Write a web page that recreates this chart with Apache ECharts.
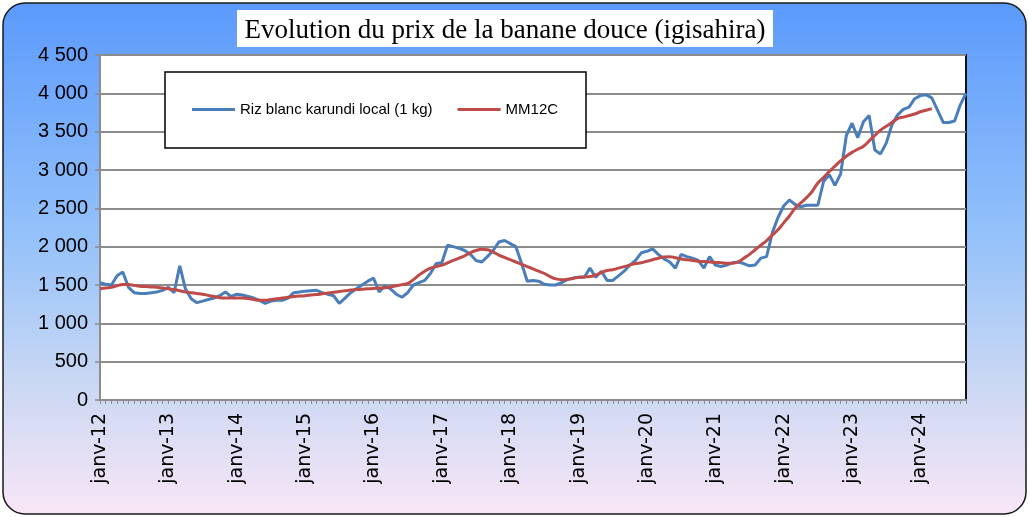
<!DOCTYPE html>
<html>
<head>
<meta charset="utf-8">
<script src="https://cdn.jsdelivr.net/npm/echarts@6/dist/echarts.min.js"></script>
<style>
  html, body { margin: 0; padding: 0; background: #ffffff; }
  #chart { width: 1029px; height: 517px; }
</style>
</head>
<body>
<div id="chart"></div>
<script>
// Month names and years used to build the monthly category axis (janv-12 ... sept-24)
const monthNames = ['janv', 'févr', 'mars', 'avr', 'mai', 'juin', 'juil', 'août', 'sept', 'oct', 'nov', 'déc'];
const years = ['12', '13', '14', '15', '16', '17', '18', '19', '20', '21', '22', '23', '24'];
const lastMonthIndex2024 = 8; // series ends in September 2024

// Monthly price (FBu)
const priceSeries = [
  1530, 1510, 1500, 1620, 1670, 1470, 1400, 1390, 1390, 1400, 1410, 1430, // 2012
  1470, 1400, 1750, 1450, 1320, 1270, 1290, 1310, 1330, 1360, 1410, 1350, // 2013
  1380, 1370, 1350, 1330, 1300, 1260, 1290, 1300, 1300, 1330, 1400, 1410, // 2014
  1420, 1425, 1430, 1400, 1380, 1360, 1260, 1330, 1400, 1450, 1500, 1550, // 2015
  1590, 1410, 1490, 1450, 1380, 1340, 1400, 1500, 1530, 1560, 1650, 1780, // 2016
  1790, 2020, 2000, 1980, 1950, 1900, 1820, 1800, 1870, 1950, 2060, 2080, // 2017
  2040, 2000, 1780, 1550, 1560, 1550, 1510, 1500, 1500, 1530, 1570, 1590, // 2018
  1600, 1600, 1720, 1600, 1680, 1560, 1560, 1620, 1680, 1760, 1820, 1920, // 2019
  1940, 1970, 1900, 1840, 1800, 1720, 1900, 1870, 1850, 1820, 1720, 1870, // 2020
  1760, 1740, 1760, 1790, 1800, 1780, 1750, 1760, 1850, 1870, 2180, 2380, // 2021
  2530, 2610, 2550, 2520, 2540, 2540, 2540, 2850, 2940, 2800, 2950, 3450, // 2022
  3610, 3420, 3630, 3710, 3260, 3210, 3350, 3590, 3720, 3790, 3820, 3930, // 2023
  3970, 3980, 3940, 3780, 3620, 3620, 3640, 3850, 4000                    // 2024
];

// Centred 12-month moving average (no value for the last months)
const movingAverage = [
  1450, 1460, 1470, 1490, 1505, 1505, 1495, 1485, 1480, 1475, 1470, 1460, // 2012
  1450, 1440, 1425, 1410, 1400, 1390, 1380, 1365, 1350, 1335, 1330, 1330, // 2013
  1330, 1330, 1325, 1310, 1300, 1300, 1310, 1320, 1330, 1340, 1350, 1355, // 2014
  1360, 1370, 1375, 1385, 1395, 1405, 1415, 1425, 1435, 1440, 1445, 1450, // 2015
  1455, 1460, 1465, 1475, 1490, 1505, 1520, 1570, 1630, 1680, 1720, 1740, // 2016
  1760, 1790, 1820, 1850, 1880, 1920, 1950, 1965, 1960, 1930, 1890, 1860, // 2017
  1830, 1800, 1770, 1740, 1710, 1680, 1650, 1610, 1580, 1570, 1575, 1585, // 2018
  1600, 1605, 1610, 1630, 1660, 1690, 1700, 1720, 1740, 1760, 1780, 1790, // 2019
  1810, 1830, 1850, 1865, 1870, 1855, 1840, 1830, 1820, 1810, 1805, 1800, // 2020
  1795, 1790, 1785, 1785, 1800, 1850, 1900, 1960, 2020, 2080, 2150, 2220, // 2021
  2310, 2400, 2500, 2570, 2640, 2720, 2830, 2900, 2980, 3050, 3120, 3180, // 2022
  3230, 3270, 3310, 3380, 3450, 3520, 3570, 3620, 3670, 3690, 3710, 3730, // 2023
  3760, 3780, 3800, null, null, null, null, null, null                    // 2024
];

const seriesNames = ['Riz blanc karundi local (1 kg)', 'MM12C'];
const titleText = 'Evolution du prix de la banane douce (igisahira)';

// Build "janv-12", "févr-12", ... labels
const categories = [];
years.forEach((yy, yi) => {
  const lastMonth = yi === years.length - 1 ? lastMonthIndex2024 : 11;
  for (let m = 0; m <= lastMonth; m++) categories.push(monthNames[m] + '-' + yy);
});

const formatThousands = v => String(v).replace(/\B(?=(\d{3})+(?!\d))/g, ' ');

const chart = echarts.init(document.getElementById('chart'), null, { renderer: 'canvas' });

const option = {
  backgroundColor: '#ffffff',
  animation: false,
  title: {
    text: titleText,
    left: 505,
    top: 17,
    textAlign: 'center',
    padding: 0,
    textStyle: {
      fontFamily: 'Liberation Serif',
      fontSize: 27,
      fontWeight: 'normal',
      color: '#000000'
    },
    z: 10
  },
  legend: {
    left: 192,
    top: 102,
    icon: 'rect',
    itemWidth: 43,
    itemHeight: 3,
    itemGap: 25,
    padding: 0,
    textStyle: {
      fontFamily: 'Liberation Sans',
      fontSize: 15,
      color: '#000000',
      padding: [0, 0, 0, 0]
    },
    data: seriesNames,
    z: 10
  },
  graphic: [
    {
      // rounded panel with blue-to-lavender gradient
      type: 'rect',
      z: -10,
      silent: true,
      shape: { x: 3, y: 3, width: 1023, height: 511, r: 22 },
      style: {
        fill: new echarts.graphic.LinearGradient(0, 0, 0, 1, [
          { offset: 0, color: '#5b9afc' },
          { offset: 0.45, color: '#93c1fa' },
          { offset: 0.75, color: '#cbd8f3' },
          { offset: 1, color: '#f9e6f6' }
        ]),
        stroke: '#1a1a1a',
        lineWidth: 1.5
      }
    },
    {
      // title box
      type: 'rect',
      z: 5,
      silent: true,
      shape: { x: 237, y: 10, width: 536, height: 37 },
      style: { fill: '#ffffff' }
    },
    {
      // legend box
      type: 'rect',
      z: 5,
      silent: true,
      shape: { x: 165, y: 72, width: 421, height: 76 },
      style: { fill: '#ffffff', stroke: '#000000', lineWidth: 1.5 }
    }
  ],
  grid: {
    left: 100,
    right: 63,
    top: 55,
    bottom: 117,
    show: true,
    backgroundColor: '#ffffff',
    borderColor: '#111111',
    borderWidth: 2,
    containLabel: false
  },
  xAxis: {
    type: 'category',
    data: categories,
    boundaryGap: false,
    axisLine: { lineStyle: { color: '#8c8c8c', width: 2 } },
    axisTick: { show: true, interval: 0, length: 4, lineStyle: { color: '#8c8c8c', width: 1 } },
    axisLabel: {
      interval: 11,
      rotate: 90,
      margin: 13,
      padding: [7, 0, 0, 0],
      fontFamily: 'DejaVu Sans',
      fontSize: 19,
      color: '#000000'
    },
    splitLine: { show: false }
  },
  yAxis: {
    type: 'value',
    min: 0,
    max: 4500,
    interval: 500,
    axisLine: { show: true, lineStyle: { color: '#8c8c8c', width: 2 } },
    axisTick: { show: true, length: 5, lineStyle: { color: '#8c8c8c', width: 1.5 } },
    axisLabel: {
      margin: 12,
      fontFamily: 'Liberation Sans',
      fontSize: 20,
      color: '#000000',
      formatter: formatThousands
    },
    splitLine: { show: true, lineStyle: { color: '#8c8c8c', width: 2 } }
  },
  series: [
    {
      name: seriesNames[0],
      type: 'line',
      data: priceSeries,
      symbol: 'none',
      smooth: false,
      lineStyle: { color: '#4a7ebb', width: 3 },
      itemStyle: { color: '#4a7ebb' },
      z: 3
    },
    {
      name: seriesNames[1],
      type: 'line',
      data: movingAverage,
      symbol: 'none',
      smooth: true,
      connectNulls: false,
      lineStyle: { color: '#be4b48', width: 3 },
      itemStyle: { color: '#be4b48' },
      z: 4
    }
  ]
};

chart.setOption(option);
</script>
</body>
</html>
